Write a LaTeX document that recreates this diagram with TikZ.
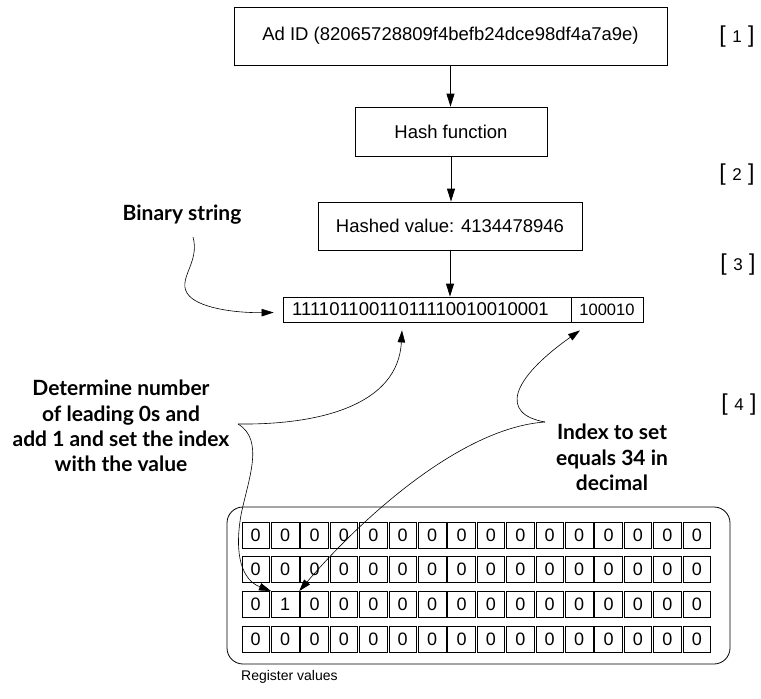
\documentclass[tikz,border=0pt]{standalone}
\usepackage{fontspec}
\setmainfont{Liberation Sans}
\newfontfamily\calloutfont{Lato}
\usepackage{tikz}
\usetikzlibrary{positioning,calc,arrows.meta}
\tikzset{
  hllbox/.style={draw,line width=0.8pt,inner sep=0pt,font=\fontsize{18.5}{20}\selectfont},
  hllarrow/.style={line width=0.8pt,-{Triangle[length=13pt,width=8pt]}},
  hllcurve/.style={line width=0.6pt,-{Triangle[length=12pt,width=7.5pt]}},
  callout/.style={align=center,inner sep=0pt,font=\calloutfont\bfseries\fontsize{21}{25.3}\selectfont},
  regcell/.style={draw,line width=0.7pt,minimum width=27.5pt,minimum height=26pt,inner sep=0pt,
                  font=\fontsize{18}{18}\selectfont}
}
\newcommand{\hllstep}[3]{%
  \node[inner sep=0pt,font=\fontsize{17}{17}\selectfont] (#3) at #1
    {{\fontsize{23}{23}\selectfont[}\hspace{6.5pt}#2\hspace{6.5pt}{\fontsize{23}{23}\selectfont]}};
}

\begin{document}
\begin{tikzpicture}[x=1pt,y=-1pt]
  \useasboundingbox (0,0) rectangle (761,699);

  \node[hllbox,minimum width=433pt,minimum height=58pt] (adid) at (450.5,36)
    {Ad ID (82065728809f4befb24dce98df4a7a9e)};
  \node[hllbox,minimum width=192pt,minimum height=49pt] (hash) at (451,131.5) {Hash function};
  \node[hllbox,minimum width=264pt,minimum height=48pt] (hashed) at (450,226) {Hashed value: 4134478946};
  \node[hllbox,minimum width=288pt,minimum height=25pt,font=\fontsize{18.5}{18}\selectfont] (bits)
    at (427,309.5) {\hspace{-13pt}11110110011011110010010001};
  \node[hllbox,minimum width=72pt,minimum height=25pt,font=\fontsize{16.5}{18}\selectfont] (idxbits)
    at (607,309.5) {100010};

  \draw[hllarrow] (adid.south) -- (adid.south |- hash.north);
  \draw[hllarrow] (hash.south) -- (hash.south |- hashed.north);
  \draw[hllarrow] (hashed.south) -- (hashed.south |- bits.north);

  \hllstep{(737,37)}{1}{step1}
  \hllstep{(737,175)}{2}{step2}
  \hllstep{(738,265)}{3}{step3}
  \hllstep{(739,405)}{4}{step4}

  \node[callout] (binlabel) at (182,215) {Binary string};
  \node[callout] (determine) at (121,426) {Determine number\\of leading 0s and\\add 1 and set the index\\with the value};
  \node[callout] (indexset) at (612,457.5) {Index to set\\equals 34 in\\decimal};

  % register values
  \node[draw,line width=0.8pt,rounded corners=16pt,minimum width=503pt,minimum height=157pt] (registers)
    at (478.5,585.5) {};
  \foreach \r in {1,...,4}{
    \foreach \c in {1,...,16}{
      \node[regcell] (cell-\r-\c) at ({255.75+29.4*(\c-1)},{535+34.7*(\r-1)})
        {\ifnum\r=3 \ifnum\c=2 1\else 0\fi\else 0\fi};
    }
  }
  \node[anchor=west,inner sep=0pt,font=\fontsize{14}{16}\selectfont] (reglabel) at (241,677) {Register values};

  \coordinate (bincusp) at (193,237);
  \coordinate (detcusp) at (238,424);
  \coordinate (idxcusp) at (545,422);

  \draw[hllcurve] (bincusp) .. controls (200,262) and (178,278) .. (187,293)
    .. controls (196,308) and (235,313) .. ([xshift=-9pt,yshift=-3pt]bits.west);
  \draw[hllcurve] (detcusp) .. controls (320,425) and (398,405) .. ([xshift=-25pt,yshift=-8pt]bits.south);
  \draw[hllcurve] (detcusp) .. controls (265,440) and (248,480) .. (241,515)
    .. controls (234,555) and (242,580) .. (cell-3-2.north west);
  \draw[hllcurve] (idxcusp) .. controls (500,414) and (510,380) .. ([xshift=-27pt,yshift=-8pt]idxbits.south);
  \draw[hllcurve] (idxcusp) .. controls (460,428) and (360,520) .. (cell-3-2.north east);
\end{tikzpicture}
\end{document}
